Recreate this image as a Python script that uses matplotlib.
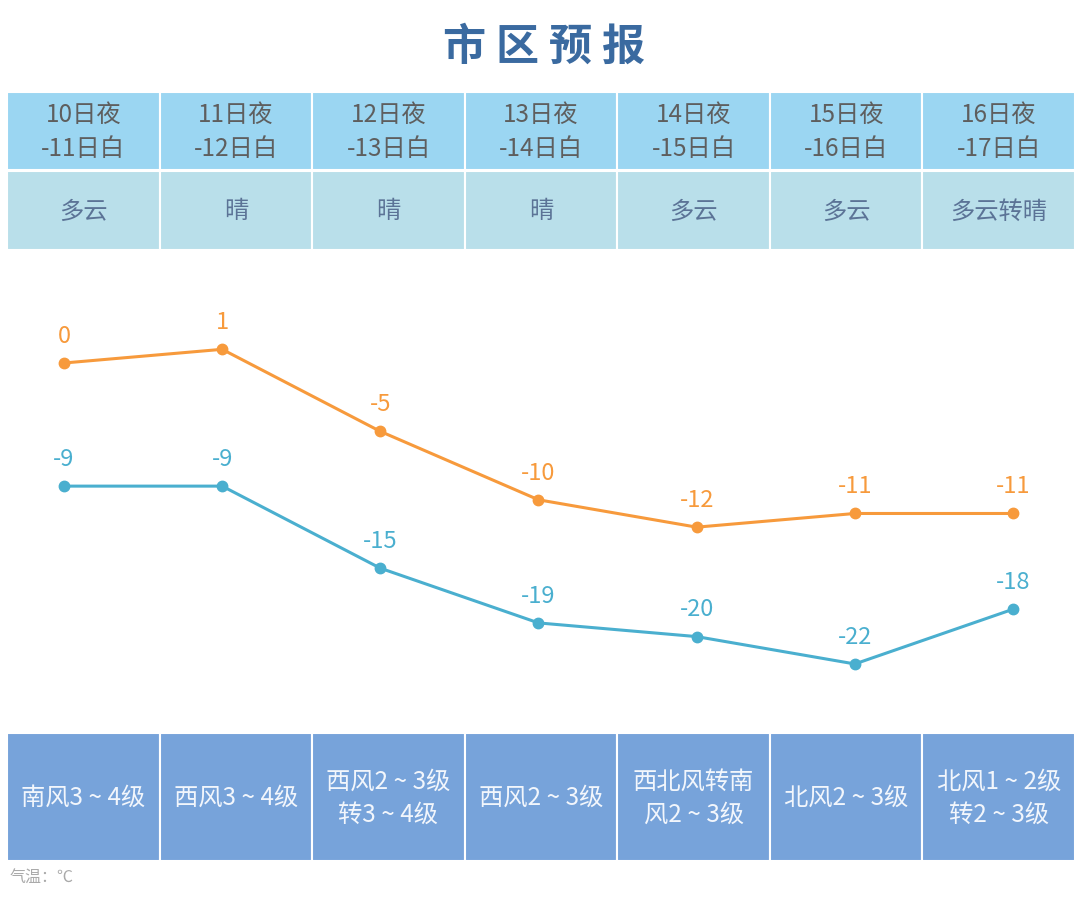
import matplotlib
matplotlib.use("Agg")
from matplotlib import pyplot as plt
from matplotlib.patches import Rectangle

plt.rcParams['font.family'] = ['Noto Sans CJK SC', 'DejaVu Sans']

# data
dates = ["10日夜\n-11日白", "11日夜\n-12日白", "12日夜\n-13日白", "13日夜\n-14日白",
         "14日夜\n-15日白", "15日夜\n-16日白", "16日夜\n-17日白"]
weather = ["多云", "晴", "晴", "晴", "多云", "多云", "多云转晴"]
high = [0, 1, -5, -10, -12, -11, -11]
low = [-9, -9, -15, -19, -20, -22, -18]
wind = ["南风3 ~ 4级", "西风3 ~ 4级", "西风2 ~ 3级\n转3 ~ 4级", "西风2 ~ 3级",
        "西北风转南\n风2 ~ 3级", "北风2 ~ 3级", "北风1 ~ 2级\n转2 ~ 3级"]

W, H = 1080, 907
fig = plt.figure(figsize=(W / 100, H / 100), dpi=100)

# background axes in pixel units for the table parts
bg = fig.add_axes([0, 0, 1, 1])
bg.set_xlim(0, W)
bg.set_ylim(H, 0)
bg.axis("off")

title = "市区预报"
for k, ch in enumerate(title):
    bg.text(437 + 27 + k * 53, 47, ch, fontsize=31, fontweight="bold",
            color="#3a6aa0", ha="center", va="center")

x0, x1 = 7, 1075
cw = (x1 - x0) / len(dates)
rows = [(92, 170, "#9bd6f2", dates, "#5e5e5e", 1.45),
        (171, 250, "#b9dfea", weather, "#5b7396", 1.2),
        (733, 861, "#77a3da", wind, "#f2f6fc", 1.35)]
for top, bot, fc, labels, tc, ls in rows:
    for i, lab in enumerate(labels):
        bg.add_patch(Rectangle((x0 + i * cw, top), cw, bot - top, facecolor=fc,
                               edgecolor="white", linewidth=1.5))
        bg.text(x0 + (i + 0.5) * cw, (top + bot) / 2 + 1, lab, fontsize=17.5,
                color=tc, ha="center", va="center", linespacing=ls)

bg.text(10, 878, "气温：℃", fontsize=11.5, color="#aaaaaa", ha="left", va="center")

# line chart
px_per_deg = 13.68
y_zero = 363
ytop, ybot = 3, -25
ax = fig.add_axes([64 / W, 1 - (y_zero - ybot * px_per_deg) / H,
                   (1013 - 64) / W, (ytop - ybot) * px_per_deg / H])
ax.patch.set_alpha(0)
ax.set_xlim(0, len(high) - 1)
ax.set_ylim(ybot, ytop)
ax.axis("off")

xs = list(range(len(high)))
for vals, col in [(high, "#f79a3c"), (low, "#4aafcf")]:
    ax.plot(xs, vals, color=col, linewidth=2.2, marker="o", markersize=7.5,
            clip_on=False)
    for x, v in zip(xs, vals):
        ax.annotate(str(v), (x, v), xytext=(0, 11), textcoords="offset points",
                    ha="center", va="bottom", fontsize=17, color=col)

fig.savefig("out.png", dpi=100)
